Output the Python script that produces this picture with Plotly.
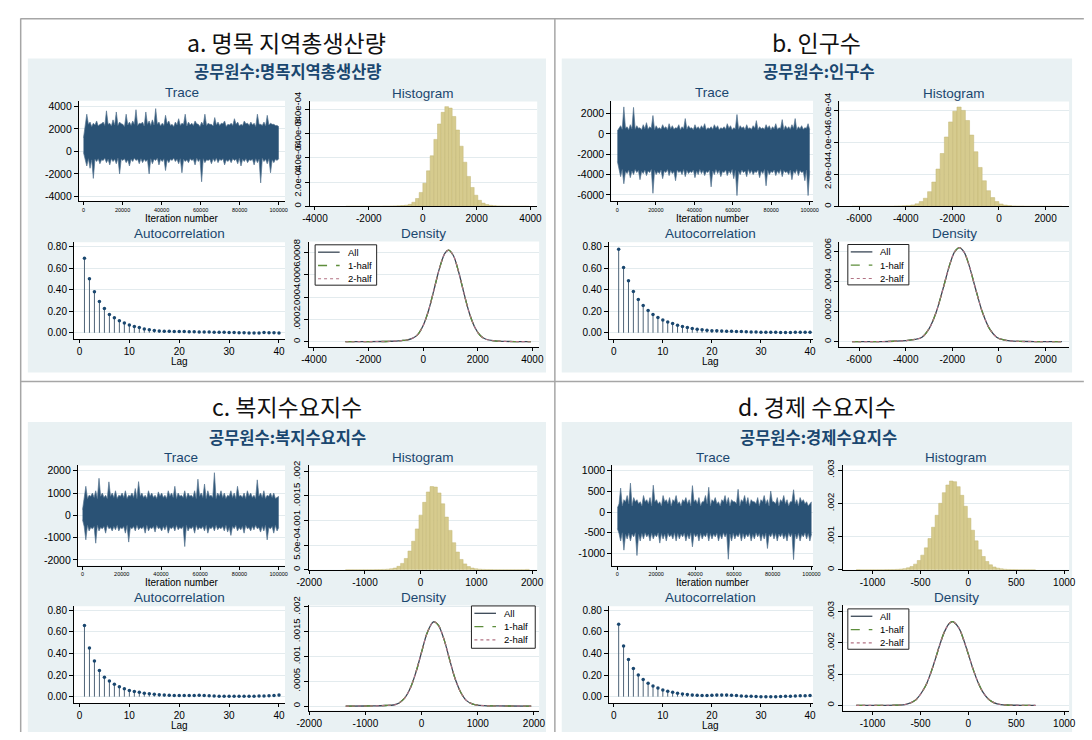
import plotly.graph_objects as go

# page is 1092x740; the browser body keeps an 8 px margin, so the figure is 16 px smaller
PAGE_W, PAGE_H = 1092, 740
OFF = 8
W, H = PAGE_W - 2 * OFF, PAGE_H - 2 * OFF

# ============================ DATA ============================
ITER_MAX = 100000

# Trace panels: upper / lower extremes of the chain, read left -> right (120 points each)
trace_hi_a = [1200, 2300, 3300, 2400, 2600, 2200, 2500, 2350, 2700, 2250,
              2400, 2450, 2600, 2300, 3600, 2400, 2500, 2250, 2800, 2350,
              3500, 2300, 2600, 2450, 2400, 2200, 3300, 2350, 2600, 2300,
              2700, 2400, 3700, 2300, 2500, 2450, 2600, 2250, 3500, 2400,
              2700, 2300, 2800, 2350, 3800, 2400, 2600, 2250, 2500, 2300,
              3200, 2450, 2700, 2300, 2400, 2200, 2600, 2350, 2900, 2300,
              2500, 2400, 3300, 2250, 2600, 2350, 2500, 2300, 2700, 2450,
              2400, 2200, 2600, 2350, 3300, 2300, 2500, 2400, 2400, 2250,
              3000, 2350, 2600, 2300, 2500, 2450, 2700, 2200, 2400, 2350,
              2500, 2300, 2900, 2400, 2600, 2250, 2400, 2300, 2700, 2450,
              2500, 2300, 2600, 2350, 2500, 2200, 3300, 2400, 2400, 2300,
              2600, 2250, 3200, 2350, 2500, 2400, 2400, 2300, 2300, 2200]
trace_lo_a = [-100, -700, -1300, -650, -1500, -750, -2400, -700, -900, -650,
              -1100, -750, -800, -600, -1000, -700, -1200, -650, -900, -700,
              -1100, -600, -2000, -700, -800, -650, -1000, -750, -1300, -700,
              -900, -600, -800, -700, -1100, -650, -1000, -700, -900, -750,
              -2000, -650, -1100, -700, -800, -600, -1200, -700, -900, -650,
              -1700, -750, -1000, -700, -800, -600, -900, -700, -1100, -650,
              -1900, -700, -900, -750, -1000, -650, -800, -700, -1200, -600,
              -900, -700, -2700, -650, -1000, -750, -800, -700, -1100, -650,
              -900, -600, -1000, -700, -800, -650, -1200, -750, -900, -700,
              -1000, -650, -800, -700, -1100, -600, -1300, -700, -900, -650,
              -1000, -750, -800, -700, -1200, -650, -1000, -700, -2800, -600,
              -900, -700, -1100, -650, -1900, -750, -1000, -700, -800, -650]

trace_hi_b = [300, 500, 800, 450, 2650, 550, 700, 400, 900, 500,
              2600, 450, 800, 550, 600, 400, 900, 500, 1100, 450,
              700, 550, 1800, 400, 800, 500, 600, 450, 900, 550,
              700, 400, 1000, 500, 800, 450, 600, 550, 900, 400,
              700, 500, 1500, 450, 800, 550, 600, 400, 900, 500,
              700, 450, 800, 550, 1000, 400, 600, 500, 700, 450,
              900, 550, 800, 400, 600, 500, 700, 450, 1000, 550,
              800, 400, 600, 500, 1900, 450, 800, 550, 700, 400,
              900, 500, 600, 450, 800, 550, 1300, 400, 700, 500,
              600, 450, 900, 550, 800, 400, 700, 500, 1000, 450,
              600, 550, 1400, 400, 800, 500, 700, 450, 900, 550,
              1500, 400, 700, 500, 800, 450, 600, 550, 1000, 400]
trace_lo_b = [-2700, -3600, -4200, -3500, -4900, -3700, -3900, -3550, -4300, -3650,
              -4000, -3500, -3800, -3600, -4500, -3700, -3900, -3550, -4100, -3650,
              -3800, -3500, -5840, -3600, -4000, -3700, -3900, -3550, -4400, -3650,
              -3800, -3500, -4100, -3600, -3900, -3700, -4600, -3550, -3800, -3650,
              -4000, -3500, -4200, -3600, -3900, -3700, -3800, -3550, -4300, -3650,
              -4000, -3500, -3900, -3600, -4100, -3700, -3800, -3550, -5200, -3650,
              -4000, -3500, -3900, -3600, -4200, -3700, -3800, -3550, -4100, -3650,
              -3900, -3500, -4400, -3600, -6060, -3700, -4000, -3550, -3800, -3650,
              -4200, -3500, -3900, -3600, -4000, -3700, -3800, -3550, -4300, -3650,
              -3900, -3500, -5100, -3600, -4000, -3700, -3800, -3550, -4100, -3650,
              -3900, -3500, -4200, -3600, -3800, -3700, -4000, -3550, -4500, -3650,
              -3900, -3500, -4100, -3600, -3800, -3700, -4600, -3550, -6060, -3650]

trace_hi_c = [250, 800, 1300, 750, 900, 850, 1000, 800, 1100, 750,
              1660, 850, 1000, 800, 900, 750, 1500, 850, 1000, 800,
              1100, 750, 900, 850, 1000, 800, 1100, 750, 900, 850,
              1000, 800, 1200, 750, 1510, 850, 1000, 800, 900, 750,
              1100, 850, 1000, 800, 900, 750, 1050, 850, 1000, 800,
              900, 750, 1100, 850, 1000, 800, 1300, 750, 1000, 850,
              900, 800, 1100, 750, 1000, 850, 900, 800, 1100, 750,
              1620, 850, 1000, 800, 1400, 750, 1100, 850, 900, 800,
              1910, 750, 1000, 850, 1100, 800, 1000, 750, 900, 850,
              1100, 800, 1000, 750, 1300, 850, 900, 800, 1000, 750,
              1100, 850, 1000, 800, 900, 750, 1590, 850, 1000, 800,
              1100, 750, 900, 850, 1000, 800, 1000, 750, 800, 850]
trace_lo_c = [-200, -500, -1100, -450, -700, -550, -600, -500, -1250, -450,
              -700, -550, -600, -500, -800, -450, -600, -550, -700, -500,
              -650, -450, -700, -550, -600, -500, -800, -450, -1200, -550,
              -600, -500, -700, -450, -650, -550, -600, -500, -800, -450,
              -700, -550, -600, -500, -750, -450, -600, -550, -700, -500,
              -650, -450, -800, -550, -600, -500, -700, -450, -650, -550,
              -600, -500, -1400, -450, -700, -550, -600, -500, -800, -450,
              -650, -550, -600, -500, -700, -450, -800, -550, -600, -500,
              -700, -450, -650, -550, -600, -500, -700, -450, -750, -550,
              -900, -500, -600, -450, -700, -550, -650, -500, -800, -450,
              -600, -550, -700, -500, -650, -450, -600, -550, -750, -500,
              -700, -450, -1100, -550, -600, -500, -800, -450, -700, -550]

trace_hi_d = [100, 200, 580, 150, 300, 250, 400, 200, 700, 150,
              350, 250, 300, 200, 250, 150, 400, 250, 300, 200,
              350, 150, 650, 250, 300, 200, 250, 150, 400, 250,
              300, 200, 350, 150, 300, 250, 400, 200, 250, 150,
              300, 250, 350, 200, 300, 150, 640, 250, 300, 200,
              350, 150, 250, 250, 400, 200, 600, 150, 300, 250,
              350, 200, 250, 150, 300, 250, 400, 200, 350, 150,
              300, 250, 250, 200, 550, 150, 300, 250, 400, 200,
              350, 150, 300, 250, 250, 200, 350, 150, 300, 250,
              400, 200, 300, 150, 510, 250, 250, 200, 350, 150,
              300, 250, 400, 200, 300, 150, 250, 250, 540, 200,
              300, 150, 350, 250, 300, 200, 250, 150, 200, 250]
trace_lo_d = [-400, -520, -700, -500, -920, -540, -650, -510, -700, -530,
              -600, -500, -1050, -540, -700, -520, -650, -500, -600, -530,
              -700, -510, -650, -540, -600, -500, -750, -520, -650, -530,
              -700, -510, -600, -540, -650, -500, -700, -520, -650, -530,
              -600, -510, -700, -540, -650, -500, -840, -520, -600, -530,
              -700, -510, -650, -540, -600, -500, -700, -520, -650, -530,
              -600, -510, -700, -540, -650, -500, -600, -520, -1140, -530,
              -700, -510, -650, -540, -600, -500, -700, -520, -650, -530,
              -600, -510, -700, -540, -650, -500, -600, -520, -700, -530,
              -650, -510, -880, -540, -600, -500, -650, -520, -700, -530,
              -600, -510, -650, -540, -700, -500, -600, -520, -1150, -530,
              -650, -510, -700, -540, -600, -500, -650, -520, -700, -530]

# Histograms: 50 bins (start, width), density heights in units of 1e-4
hist_a_start, hist_a_width = -2850, 136
hist_a = [0.01, 0.01, 0.01, 0.01, 0.01, 0.01, 0.01, 0.01, 0.01, 0.01,
          0.02, 0.02, 0.03, 0.04, 0.05, 0.07, 0.10, 0.17, 0.34, 0.65,
          1.15, 1.91, 2.93, 4.17, 5.52, 6.79, 7.75, 8.22, 8.10, 7.41,
          6.29, 4.96, 3.64, 2.47, 1.56, 0.92, 0.50, 0.27, 0.15, 0.09,
          0.06, 0.04, 0.03, 0.02, 0.02, 0.01, 0.01, 0.01, 0.01, 0.01]
hist_b_start, hist_b_width = -6300, 180
hist_b = [0.01, 0.01, 0.01, 0.01, 0.01, 0.01, 0.01, 0.01, 0.01, 0.01,
          0.02, 0.03, 0.04, 0.06, 0.09, 0.16, 0.30, 0.51, 0.92, 1.52,
          2.33, 3.30, 4.33, 5.27, 5.94, 6.20, 5.99, 5.36, 4.45, 3.41,
          2.43, 1.60, 0.98, 0.55, 0.30, 0.15, 0.08, 0.05, 0.03, 0.02,
          0.02, 0.01, 0.01, 0.01, 0.01, 0.01, 0.01, 0.01, 0.01, 0.01]
hist_c_start, hist_c_width = -1350, 66
hist_c = [0.02, 0.02, 0.02, 0.02, 0.02, 0.03, 0.03, 0.03, 0.04, 0.05,
          0.08, 0.12, 0.20, 0.35, 0.70, 1.30, 2.30, 3.80, 5.80, 8.30,
          11.1, 13.7, 15.8, 16.9, 16.8, 15.6, 13.4, 10.7, 8.00, 5.50,
          3.60, 2.10, 1.20, 0.65, 0.35, 0.20, 0.12, 0.08, 0.05, 0.04,
          0.03, 0.03, 0.02, 0.02, 0.02, 0.02, 0.02, 0.02, 0.02, 0.08]
hist_d_start, hist_d_width = -1170, 37.4
hist_d = [0.05, 0.02, 0.02, 0.03, 0.03, 0.03, 0.04, 0.04, 0.05, 0.07,
          0.09, 0.13, 0.20, 0.35, 0.60, 1.00, 1.70, 2.80, 4.40, 6.60,
          9.40, 12.8, 16.4, 20.0, 23.2, 25.5, 26.7, 26.5, 25.0, 22.4,
          19.1, 15.5, 11.9, 8.70, 6.00, 4.00, 2.50, 1.50, 0.85, 0.50,
          0.28, 0.16, 0.10, 0.07, 0.05, 0.04, 0.03, 0.03, 0.02, 0.02]

# Kernel densities (y in units of 1e-4); All / 1-half / 2-half overlap
dens_a_x = [-2850, -2000, -1500, -1200, -1000, -800, -600, -400, -200, 0, 200, 400, 600,
            800, 930, 1100, 1300, 1500, 1700, 1900, 2100, 2300, 2600, 3000, 3500, 3950]
dens_a_y = [0.0, 0.01, 0.02, 0.04, 0.06, 0.10, 0.15, 0.30, 0.64, 1.45, 2.82, 4.68, 6.59,
            7.93, 8.20, 7.74, 6.24, 4.28, 2.50, 1.25, 0.53, 0.22, 0.08, 0.03, 0.01, 0.0]
dens_b_x = [-6300, -5000, -4500, -4000, -3600, -3300, -3000, -2700, -2400, -2100, -1900, -1700,
            -1500, -1300, -1000, -700, -400, -100, 200, 500, 900, 1500, 2000, 2700]
dens_b_y = [0.0, 0.01, 0.03, 0.07, 0.15, 0.30, 0.85, 1.92, 3.50, 5.17, 5.96, 6.25,
            5.96, 5.17, 3.50, 1.92, 0.85, 0.30, 0.12, 0.05, 0.02, 0.01, 0.0, 0.0]
dens_c_x = [-1350, -1000, -800, -650, -500, -400, -300, -200, -100, 0, 100, 200,
            230, 300, 400, 500, 600, 700, 800, 900, 1000, 1200, 1500, 1950]
dens_c_y = [0.0, 0.02, 0.05, 0.12, 0.22, 0.62, 1.64, 3.64, 6.86, 10.9, 14.8, 16.9,
            17.0, 16.3, 13.4, 9.3, 5.4, 2.7, 1.1, 0.45, 0.18, 0.05, 0.02, 0.0]
dens_d_x = [-1170, -900, -750, -650, -550, -450, -400, -350, -300, -250, -200, -165,
            -100, -50, 0, 50, 100, 150, 200, 250, 300, 400, 550, 700]
dens_d_y = [0.0, 0.03, 0.08, 0.36, 1.76, 6.04, 9.72, 14.3, 19.2, 23.5, 26.2, 26.8,
            24.8, 21.0, 16.3, 11.5, 7.4, 4.3, 2.3, 1.13, 0.5, 0.12, 0.03, 0.0]

# Autocorrelation, lags 1..40
lags = list(range(1, 41))
acf_a = [0.69, 0.50, 0.38, 0.29, 0.224, 0.17, 0.139, 0.112, 0.091, 0.073,
         0.058, 0.048, 0.036, 0.027, 0.021, 0.017, 0.015, 0.014, 0.013, 0.012,
         0.011, 0.010, 0.009, 0.008, 0.008, 0.007, 0.006, 0.005, 0.004, 0.003,
         0.002, 0.001, 0.000, -0.001, -0.002, -0.002, 0.002, 0.001, 0.000, -0.001]
acf_b = [0.775, 0.606, 0.483, 0.382, 0.308, 0.253, 0.206, 0.170, 0.142, 0.118,
         0.100, 0.085, 0.070, 0.058, 0.048, 0.040, 0.033, 0.027, 0.024, 0.020,
         0.018, 0.017, 0.015, 0.014, 0.012, 0.011, 0.009, 0.008, 0.007, 0.006,
         0.005, 0.004, 0.004, 0.003, 0.003, 0.003, 0.004, 0.005, 0.005, 0.006]
acf_c = [0.66, 0.45, 0.33, 0.243, 0.18, 0.145, 0.114, 0.092, 0.074, 0.058,
         0.048, 0.040, 0.032, 0.026, 0.022, 0.018, 0.015, 0.013, 0.011, 0.010,
         0.010, 0.011, 0.012, 0.014, 0.012, 0.009, 0.006, 0.004, 0.003, 0.003,
         0.003, 0.003, 0.004, 0.004, 0.005, 0.006, 0.007, 0.009, 0.012, 0.016]
acf_d = [0.67, 0.47, 0.345, 0.26, 0.20, 0.16, 0.125, 0.10, 0.08, 0.063,
         0.05, 0.04, 0.032, 0.025, 0.02, 0.016, 0.013, 0.011, 0.012, 0.013,
         0.015, 0.016, 0.015, 0.013, 0.010, 0.007, 0.005, 0.003, 0.001, 0.000,
         -0.001, -0.001, 0.000, 0.001, 0.003, 0.005, 0.007, 0.008, 0.009, 0.010]

# Titles
title_a, sub_a = "a. 명목 지역총생산량", "공무원수:명목지역총생산량"
title_b, sub_b = "b. 인구수", "공무원수:인구수"
title_c, sub_c = "c. 복지수요지수", "공무원수:복지수요지수"
title_d, sub_d = "d. 경제 수요지수", "공무원수:경제수요지수"
legend_names = ["All", "1-half", "2-half"]

# Tick values / labels
trace_xticks = [0, 20000, 40000, 60000, 80000, 100000]
trace_yticks_a = [-4000, -2000, 0, 2000, 4000]
trace_yticks_b = [-6000, -4000, -2000, 0, 2000]
trace_yticks_c = [-2000, -1000, 0, 1000, 2000]
trace_yticks_d = [-1000, -500, 0, 500, 1000]
hist_xticks_a = [-4000, -2000, 0, 2000, 4000]
hist_xticks_b = [-6000, -4000, -2000, 0, 2000]
hist_xticks_c = [-2000, -1000, 0, 1000, 2000]
hist_xticks_d = [-1000, -500, 0, 500, 1000]
hist_yticks_a = [0, 2e-4, 4e-4, 6e-4, 8e-4]
hist_ylabels_a = ["0", "2.0e-04", "4.0e-04", "6.0e-04", "8.0e-04"]
hist_yticks_b = [0, 2e-4, 4e-4, 6e-4]
hist_ylabels_b = ["0", "2.0e-04", "4.0e-04", "6.0e-04"]
hist_yticks_c = [0, 5e-4, 1e-3, 1.5e-3, 2e-3]
hist_ylabels_c = ["0", "5.0e-04", ".001", ".0015", ".002"]
hist_yticks_d = [0, 1e-3, 2e-3, 3e-3]
hist_ylabels_d = ["0", ".001", ".002", ".003"]
dens_yticks_a = [0, 2e-4, 4e-4, 6e-4, 8e-4]
dens_ylabels_a = ["0", ".0002", ".0004", ".0006", ".0008"]
dens_yticks_b = [0, 2e-4, 4e-4, 6e-4]
dens_ylabels_b = ["0", ".0002", ".0004", ".0006"]
dens_yticks_c = [0, 5e-4, 1e-3, 1.5e-3, 2e-3]
dens_ylabels_c = ["0", ".0005", ".001", ".0015", ".002"]
dens_yticks_d = [0, 1e-3, 2e-3, 3e-3]
dens_ylabels_d = ["0", ".001", ".002", ".003"]
acf_xticks = [0, 10, 20, 30, 40]
acf_yticks = [0, 0.2, 0.4, 0.6, 0.8]
acf_ylabels = ["0.00", "0.20", "0.40", "0.60", "0.80"]

# ============================ STYLE ============================
LAT = "Liberation Sans, Arial, sans-serif"
KOR = "Noto Sans CJK KR, Noto Sans CJK SC, sans-serif"
NAVY = "#1a476f"
BLUEBG = "#e9f1f3"
GRID = "#e3ebee"
TRACE_FILL = "#2a5275"
TRACE_EDGE = "#587590"
KHAKI = "#d6cb8e"
KHAKI_EDGE = "#c3b674"

# page-pixel geometry: (left, top, right, bottom)
panels = [
    dict(title=title_a, sub=sub_a, blue=(16, 49, 544, 368), tpos=(280, 32), spos=(281, 62),
         tr_box=(68, 92, 278, 194.3), tr_xr=[-2360, 103200], tr_yr=[-4450, 4500], tr_yt=trace_yticks_a,
         hi_box=(303, 92.7, 535, 199.3), hi_xr=[-4200, 4250], hi_yr=[0, 8.65e-4],
         hi_xt=hist_xticks_a, hi_yt=hist_yticks_a, hi_ytt=hist_ylabels_a,
         ac_box=(63, 235.7, 278, 334), ac_xr=[-1.1, 41.2], ac_yr=[-0.058, 0.839],
         de_box=(302, 235, 537, 341.7), de_xr=[-4200, 4250], de_yr=[-0.000044, 0.000897],
         de_yt=dens_yticks_a, de_ytt=dens_ylabels_a, leg=(308.7, 238.3, 371.4, 279.3),
         thi=trace_hi_a, tlo=trace_lo_a, hist=hist_a, h0=hist_a_start, hw=hist_a_width,
         dx=dens_a_x, dy=dens_a_y, acf=acf_a),
    dict(title=title_b, sub=sub_b, blue=(560, 49, 1080, 368), tpos=(820, 32), spos=(822, 62),
         tr_box=(610.5, 92, 816, 194.3), tr_xr=[-3160, 101700], tr_yr=[-6640, 3256], tr_yt=trace_yticks_b,
         hi_box=(843, 92.7, 1077, 199.3), hi_xr=[-6838, 3010], hi_yr=[0, 6.55e-4],
         hi_xt=hist_xticks_b, hi_yt=hist_yticks_b, hi_ytt=hist_ylabels_b,
         ac_box=(608, 235.7, 816, 334), ac_xr=[-1.0, 40.6], ac_yr=[-0.058, 0.839],
         de_box=(843, 235, 1077, 341.7), de_xr=[-6838, 3010], de_yr=[-0.0000327, 0.000665],
         de_yt=dens_yticks_b, de_ytt=dens_ylabels_b, leg=(851.5, 238, 913.7, 279),
         thi=trace_hi_b, tlo=trace_lo_b, hist=hist_b, h0=hist_b_start, hw=hist_b_width,
         dx=dens_b_x, dy=dens_b_y, acf=acf_b),
    dict(title=title_c, sub=sub_c, blue=(16, 418.3, 544, 737), tpos=(280, 401.7), spos=(281, 433),
         tr_box=(67, 462.3, 278, 564), tr_xr=[-2360, 103200], tr_yr=[-2252, 2238], tr_yt=trace_yticks_c,
         hi_box=(302, 462.3, 535, 568.3), hi_xr=[-2012, 2092], hi_yr=[0, 0.00212],
         hi_xt=hist_xticks_c, hi_yt=hist_yticks_c, hi_ytt=hist_ylabels_c,
         ac_box=(63, 605.2, 278, 703.5), ac_xr=[-1.1, 41.2], ac_yr=[-0.058, 0.839],
         de_box=(302, 604.5, 537, 711.2), de_xr=[-2012, 2092], de_yr=[-0.0000894, 0.00203],
         de_yt=dens_yticks_c, de_ytt=dens_ylabels_c, leg=(468, 605, 533, 648),
         thi=trace_hi_c, tlo=trace_lo_c, hist=hist_c, h0=hist_c_start, hw=hist_c_width,
         dx=dens_c_x, dy=dens_c_y, acf=acf_c),
    dict(title=title_d, sub=sub_d, blue=(560, 418.3, 1080, 740), tpos=(820, 401.7), spos=(822, 433),
         tr_box=(611.5, 462.3, 816, 564), tr_xr=[-2630, 100760], tr_yr=[-1293, 1129], tr_yt=trace_yticks_d,
         hi_box=(846.6, 462.3, 1077, 568.3), hi_xr=[-1308, 1051], hi_yr=[0, 0.00314],
         hi_xt=hist_xticks_d, hi_yt=hist_yticks_d, hi_ytt=hist_ylabels_d,
         ac_box=(608, 605.2, 816, 703.5), ac_xr=[-1.0, 40.6], ac_yr=[-0.058, 0.839],
         de_box=(846.6, 604.5, 1077, 711.2), de_xr=[-1308, 1051], de_yr=[-0.000164, 0.003195],
         de_yt=dens_yticks_d, de_ytt=dens_ylabels_d, leg=(851.5, 608, 913.7, 649),
         thi=trace_hi_d, tlo=trace_lo_d, hist=hist_d, h0=hist_d_start, hw=hist_d_width,
         dx=dens_d_x, dy=dens_d_y, acf=acf_d),
]


def PX(x):
    return (x - OFF) / W


def PY(y):
    return 1 - (y - OFF) / H


fig = go.Figure()
layout_axes = {}
shapes = []
annotations = []
ax_n = [0]


def rect(x0, y0, x1, y1, fill):
    shapes.append(dict(type="rect", xref="paper", yref="paper", x0=PX(x0), x1=PX(x1),
                       y0=PY(y1), y1=PY(y0), fillcolor=fill, layer="below",
                       line=dict(width=0, color=fill)))


def seg(x0, y0, x1, y1, color, width, dash="solid", layer="above"):
    shapes.append(dict(type="line", xref="paper", yref="paper", x0=PX(x0), x1=PX(x1),
                       y0=PY(y0), y1=PY(y1), layer=layer,
                       line=dict(color=color, width=width, dash=dash)))


def text(x, y, s, size, color="#000", family=LAT, xanchor="center", weight="normal"):
    annotations.append(dict(x=PX(x), y=PY(y), xref="paper", yref="paper", text=s, showarrow=False,
                            xanchor=xanchor, yanchor="middle",
                            font=dict(family=family, size=size, color=color, weight=weight)))


def add_axes(box, xr, yr, xt, xtt, xfont, yt, ytt, yfont, yangle=0):
    ax_n[0] += 1
    s = "" if ax_n[0] == 1 else str(ax_n[0])
    x0, y0, x1, y1 = box
    rect(x0, y0, x1, y1, "white")
    common = dict(tickwidth=1, tickcolor="#000", ticks="outside",
                  showline=True, linecolor="#000", linewidth=1, zeroline=False,
                  fixedrange=True, tickmode="array")
    layout_axes["xaxis" + s] = dict(domain=[PX(x0), PX(x1)], anchor="y" + s, range=xr,
                                    tickvals=xt, ticktext=xtt, showgrid=False, ticklen=3,
                                    tickfont=dict(family=LAT, size=xfont, color="#000"), **common)
    layout_axes["yaxis" + s] = dict(domain=[PY(y1), PY(y0)], anchor="x" + s, range=yr,
                                    tickvals=yt, ticktext=ytt, tickangle=yangle, ticklen=4,
                                    showgrid=True, gridcolor=GRID, gridwidth=1,
                                    tickfont=dict(family=LAT, size=yfont, color="#000"), **common)
    return "x" + s, "y" + s


# outer table lines
for (x0, y0, x1, y1) in [(8.5, 8.7, 1092, 8.7), (8.7, 8.5, 8.7, 740),
                         (553, 8.5, 553, 740), (8.5, 377, 1092, 377)]:
    seg(x0, y0, x1, y1, "#a6a6a6", 1.5, layer="below")

for p in panels:
    bx0, by0, bx1, by1 = p["blue"]
    rect(bx0, by0, bx1, by1, BLUEBG)
    text(p["tpos"][0], p["tpos"][1], p["title"], 23, "#111", KOR)
    text(p["spos"][0], p["spos"][1], p["sub"], 16.5, NAVY, KOR, weight="bold")

    # ---------- Trace ----------
    xa, ya = add_axes(p["tr_box"], p["tr_xr"], p["tr_yr"], trace_xticks,
                      [str(v) for v in trace_xticks], 5.5, p["tr_yt"],
                      [str(v) for v in p["tr_yt"]], 10.5)
    n = len(p["thi"])
    its = [k * ITER_MAX / (n - 1) for k in range(n)]
    fig.add_trace(go.Scatter(x=its, y=p["tlo"], mode="lines", line=dict(color=TRACE_EDGE, width=0.7),
                             xaxis=xa, yaxis=ya, hoverinfo="skip", showlegend=False))
    fig.add_trace(go.Scatter(x=its, y=p["thi"], mode="lines", fill="tonexty", fillcolor=TRACE_FILL,
                             line=dict(color=TRACE_EDGE, width=0.7),
                             xaxis=xa, yaxis=ya, hoverinfo="skip", showlegend=False))
    b = p["tr_box"]
    text((b[0] + b[2]) / 2, b[1] - 8.5, "Trace", 13.5, NAVY)
    text((b[0] + b[2]) / 2, b[3] + 17, "Iteration number", 10)

    # ---------- Histogram ----------
    xa, ya = add_axes(p["hi_box"], p["hi_xr"], p["hi_yr"], p["hi_xt"],
                      [str(v) for v in p["hi_xt"]], 10, p["hi_yt"], p["hi_ytt"], 9.5, yangle=-90)
    centers = [p["h0"] + p["hw"] * (i + 0.5) for i in range(len(p["hist"]))]
    fig.add_trace(go.Bar(x=centers, y=[h * 1e-4 for h in p["hist"]], width=p["hw"],
                         marker=dict(color=KHAKI, line=dict(color=KHAKI_EDGE, width=0.5)),
                         xaxis=xa, yaxis=ya, hoverinfo="skip", showlegend=False))
    b = p["hi_box"]
    text((b[0] + b[2]) / 2, b[1] - 8.5, "Histogram", 13.5, NAVY)

    # ---------- Autocorrelation ----------
    xa, ya = add_axes(p["ac_box"], p["ac_xr"], p["ac_yr"], acf_xticks,
                      [str(v) for v in acf_xticks], 10, acf_yticks, acf_ylabels, 10)
    sx, sy = [], []
    for L, v in zip(lags, p["acf"]):
        sx += [L, L, None]
        sy += [0, v, None]
    fig.add_trace(go.Scatter(x=sx, y=sy, mode="lines", line=dict(color="#4f6478", width=1),
                             xaxis=xa, yaxis=ya, hoverinfo="skip", showlegend=False))
    fig.add_trace(go.Scatter(x=lags, y=p["acf"], mode="markers",
                             marker=dict(color=NAVY, size=3.5, symbol="circle"),
                             xaxis=xa, yaxis=ya, hoverinfo="skip", showlegend=False))
    b = p["ac_box"]
    text((b[0] + b[2]) / 2, b[1] - 8.5, "Autocorrelation", 13.5, NAVY)
    text((b[0] + b[2]) / 2, b[3] + 23, "Lag", 10)

    # ---------- Density ----------
    xa, ya = add_axes(p["de_box"], p["de_xr"], p["de_yr"], p["hi_xt"],
                      [str(v) for v in p["hi_xt"]], 10, p["de_yt"], p["de_ytt"], 9.5, yangle=-90)
    dens_y = [v * 1e-4 for v in p["dy"]]
    styles = [("#3a4756", "solid", 1.3), ("#5d8d3b", "dash", 1.3), ("#b27384", "dot", 1.1)]
    for (col, dash, wd) in styles:
        fig.add_trace(go.Scatter(x=p["dx"], y=dens_y, mode="lines",
                                 line=dict(color=col, width=wd, dash=dash, shape="spline", smoothing=1.0),
                                 xaxis=xa, yaxis=ya, hoverinfo="skip", showlegend=False))
    b = p["de_box"]
    text((b[0] + b[2]) / 2, b[1] - 8.5, "Density", 13.5, NAVY)

    # legend box
    lx0, ly0, lx1, ly1 = p["leg"]
    shapes.append(dict(type="rect", xref="paper", yref="paper", x0=PX(lx0), x1=PX(lx1),
                       y0=PY(ly1), y1=PY(ly0), fillcolor="white", layer="above",
                       line=dict(width=1, color="#222")))
    for k, ((col, dash, wd), name) in enumerate(zip(styles, legend_names)):
        yy = ly0 + 7.5 + 13.5 * k
        seg(lx0 + 3, yy, lx0 + 25, yy, col, wd, dash)
        text(lx0 + 31, yy, name, 9.5, "#000", xanchor="left")

fig.update_layout(
    width=W, height=H, autosize=False,
    margin=dict(l=0, r=0, t=0, b=0, pad=0),
    paper_bgcolor="white", plot_bgcolor="rgba(0,0,0,0)",
    shapes=shapes, annotations=annotations, showlegend=False,
    bargap=0, **layout_axes,
)

fig.write_html("out.html", config={"displayModeBar": False, "staticPlot": True})
